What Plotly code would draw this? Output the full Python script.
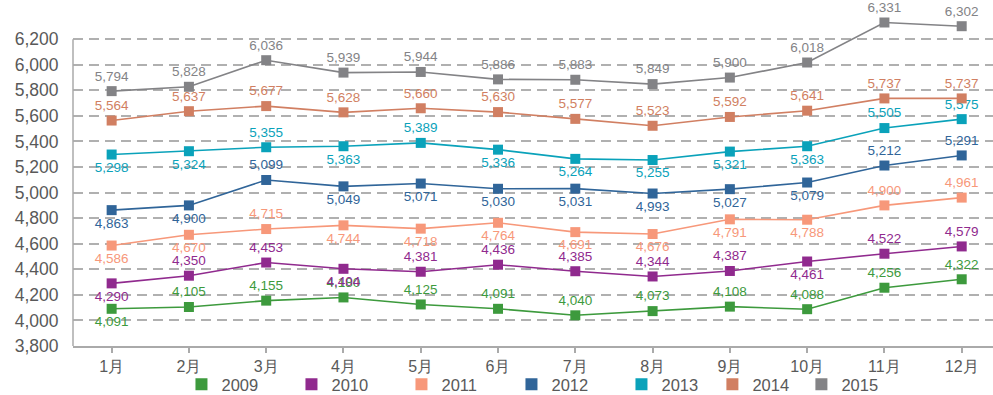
import plotly.graph_objects as go

months = ["1月", "2月", "3月", "4月", "5月", "6月", "7月", "8月", "9月", "10月", "11月", "12月"]

v2009 = [4091, 4105, 4155, 4180, 4125, 4091, 4040, 4073, 4108, 4088, 4256, 4322]
v2010 = [4290, 4350, 4453, 4404, 4381, 4436, 4385, 4344, 4387, 4461, 4522, 4579]
v2011 = [4586, 4670, 4715, 4744, 4718, 4764, 4691, 4676, 4791, 4788, 4900, 4961]
v2012 = [4863, 4900, 5099, 5049, 5071, 5030, 5031, 4993, 5027, 5079, 5212, 5291]
v2013 = [5298, 5324, 5355, 5363, 5389, 5336, 5264, 5255, 5321, 5363, 5505, 5575]
v2014 = [5564, 5637, 5677, 5628, 5660, 5630, 5577, 5523, 5592, 5641, 5737, 5737]
v2015 = [5794, 5828, 6036, 5939, 5944, 5886, 5883, 5849, 5900, 6018, 6331, 6302]

y_ticks = [3800, 4000, 4200, 4400, 4600, 4800, 5000, 5200, 5400, 5600, 5800, 6000, 6200]

# label placement per point: "t" above the marker, "b" below
pos2009 = "bttttttttttt"
pos2010 = "bttbtttttbtt"
pos2011 = "bbtbbbbbbbtt"
pos2012 = "bbtbbbbbbbtt"
pos2013 = "bbtbtbbbbbtt"
pos2014 = "tttttttttttt"
pos2015 = "tttttttttttt"

series = [
    ("2009", v2009, pos2009, "#3d9a3d", "legend"),
    ("2010", v2010, pos2010, "#902a8e", "legend"),
    ("2011", v2011, pos2011, "#f7987a", "legend"),
    ("2012", v2012, pos2012, "#306599", "legend"),
    ("2013", v2013, pos2013, "#0aa2ba", "legend"),
    ("2014", v2014, pos2014, "#d17f62", "legend2"),
    ("2015", v2015, pos2015, "#838386", "legend2"),
]

fig = go.Figure()
for name, vals, pos, color, lg in series:
    fig.add_trace(go.Scatter(
        x=list(range(len(months))),
        y=vals,
        mode="lines+markers+text",
        name=name,
        showlegend=False,
        line=dict(color=color, width=1.6),
        marker=dict(symbol="square", size=10, color=color),
        text=[f"{v:,}" for v in vals],
        textposition=["top center" if p == "t" else "bottom center" for p in pos],
        textfont=dict(family="Liberation Sans, Arial, sans-serif", size=13.5, color=color),
        cliponaxis=False,
        hoverinfo="skip",
    ))

# legend entries: square swatches only
for name, vals, pos, color, lg in series:
    fig.add_trace(go.Scatter(
        x=[None], y=[None], mode="markers", name=name,
        marker=dict(symbol="square", size=11, color=color),
        showlegend=True, legend=lg,
    ))

# value axis line running only over the labelled span
fig.add_shape(
    type="line", xref="paper", yref="y",
    x0=0, x1=0, y0=y_ticks[0], y1=y_ticks[-1],
    line=dict(color="#aaaaaa", width=1.5),
)

legend_common = dict(
    orientation="h",
    xanchor="left",
    y=-0.061, yanchor="top",
    entrywidthmode="pixels",
    font=dict(size=16.5, color="#595959"),
    itemsizing="constant",
    bgcolor="rgba(0,0,0,0)",
)

fig.update_layout(
    width=993,
    height=395,
    margin=dict(l=73, r=0, t=0, b=49, autoexpand=False),
    paper_bgcolor="white",
    plot_bgcolor="white",
    font=dict(family="Liberation Sans, Arial, sans-serif", color="#595959"),
    showlegend=True,
    legend=dict(x=0.1179, entrywidth=65, **legend_common),
    legend2=dict(x=0.695, entrywidth=44, **legend_common),
    xaxis=dict(
        tickmode="array",
        tickvals=list(range(len(months))),
        ticktext=months,
        range=[-0.5, 11.405],
        showgrid=False,
        showline=True,
        linecolor="#aaaaaa",
        linewidth=1.5,
        ticks="outside",
        tickson="boundaries",
        ticklen=5,
        tickcolor="#aaaaaa",
        tickwidth=1.5,
        tickfont=dict(size=16, color="#595959"),
        zeroline=False,
    ),
    yaxis=dict(
        range=[3800, 6507],
        tickmode="array",
        tickvals=y_ticks,
        ticktext=[f"{v:,}" for v in y_ticks],
        showgrid=True,
        gridcolor="#b0b0b0",
        gridwidth=1.5,
        griddash="10px,6px",
        showline=False,
        ticks="outside",
        ticklen=10,
        tickcolor="rgba(0,0,0,0)",
        tickfont=dict(size=17.5, color="#595959"),
        zeroline=False,
    ),
)

fig.write_html("out.html")
